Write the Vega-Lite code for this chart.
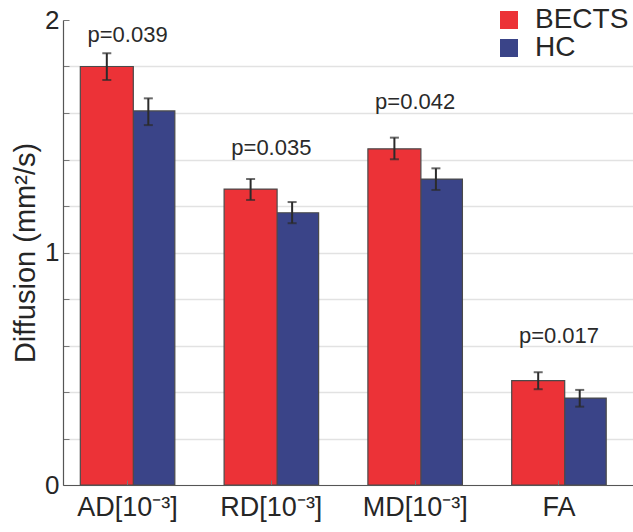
{
  "$schema": "https://vega.github.io/schema/vega-lite/v6.json",
  "width": 570,
  "height": 465,
  "autosize": "none",
  "padding": {"left": 63, "top": 20, "right": 0, "bottom": 47},
  "config": {
    "font": "Liberation Sans",
    "view": {"stroke": null},
    "axis": {"labelColor": "#262626", "titleColor": "#262626"}
  },
  "datasets": {
    "bars": [
      {"Measure": "AD[10⁻³]", "Group": "HC", "Mean": 1.609, "Lo": 1.548, "Hi": 1.663},
      {"Measure": "RD[10⁻³]", "Group": "HC", "Mean": 1.171, "Lo": 1.126, "Hi": 1.217},
      {"Measure": "MD[10⁻³]", "Group": "HC", "Mean": 1.316, "Lo": 1.269, "Hi": 1.362},
      {"Measure": "FA", "Group": "HC", "Mean": 0.374, "Lo": 0.337, "Hi": 0.409},
      {"Measure": "AD[10⁻³]", "Group": "BECTS", "Mean": 1.800, "Lo": 1.742, "Hi": 1.857},
      {"Measure": "RD[10⁻³]", "Group": "BECTS", "Mean": 1.273, "Lo": 1.226, "Hi": 1.316},
      {"Measure": "MD[10⁻³]", "Group": "BECTS", "Mean": 1.446, "Lo": 1.401, "Hi": 1.494},
      {"Measure": "FA", "Group": "BECTS", "Mean": 0.449, "Lo": 0.412, "Hi": 0.485}
    ],
    "pvals": [
      {"Measure": "AD[10⁻³]", "Y": 1.907, "Label": "p=0.039"},
      {"Measure": "RD[10⁻³]", "Y": 1.419, "Label": "p=0.035"},
      {"Measure": "MD[10⁻³]", "Y": 1.616, "Label": "p=0.042"},
      {"Measure": "FA", "Y": 0.612, "Label": "p=0.017"}
    ]
  },
  "encoding": {
    "x": {
      "field": "Measure",
      "type": "nominal",
      "sort": ["AD[10⁻³]", "RD[10⁻³]", "MD[10⁻³]", "FA"],
      "scale": {"paddingInner": 0.344, "paddingOuter": 0.154, "align": 0.393},
      "axis": {
        "title": null,
        "labelAngle": 0,
        "labelFontSize": 27,
        "labelPadding": 14,
        "tickSize": -5,
        "tickColor": "#777777",
        "domainColor": "#555555",
        "domainWidth": 1.2,
        "zindex": 1
      }
    }
  },
  "layer": [
    {
      "data": {"name": "bars"},
      "mark": {"type": "bar", "width": 53, "stroke": "#4a4a4a", "strokeWidth": 1.2},
      "encoding": {
        "xOffset": {"field": "Group", "type": "nominal", "scale": {"domain": ["BECTS", "HC"], "paddingInner": 0, "paddingOuter": 0.136}},
        "y": {
          "field": "Mean",
          "type": "quantitative",
          "stack": null,
          "scale": {"domain": [0, 2], "nice": false},
          "axis": {
            "title": "Diffusion (mm²/s)",
            "titleFontSize": 29,
            "titleFontWeight": "normal",
            "titlePadding": 4,
            "values": [0, 0.2, 0.4, 0.6, 0.8, 1, 1.2, 1.4, 1.6, 1.8, 2],
            "labelExpr": "datum.value % 1 == 0 ? '' + datum.value : ''",
            "labelFontSize": 26,
            "labelPadding": 10,
            "tickSize": -6,
            "tickColor": "#777777",
            "domainColor": "#555555",
            "domainWidth": 1.2,
            "grid": true,
            "gridColor": {"condition": {"test": "datum.value >= 1.99", "value": "white"}, "value": "#e2e2e2"},
            "gridWidth": 1.3
          }
        },
        "color": {
          "field": "Group",
          "type": "nominal",
          "scale": {"domain": ["BECTS", "HC"], "range": ["#ec3237", "#3a4488"]},
          "legend": {
            "title": null,
            "orient": "none",
            "legendX": 432,
            "legendY": -14,
            "padding": 0,
            "symbolType": "square",
            "symbolSize": 324,
            "symbolStrokeWidth": 0,
            "labelFontSize": 28,
            "labelColor": "#262626",
            "labelOffset": 12,
            "rowPadding": -2
          }
        }
      }
    },
    {
      "data": {"name": "bars"},
      "mark": {"type": "rule", "color": "#2b2b2b", "strokeWidth": 2},
      "encoding": {
        "xOffset": {"field": "Group", "type": "nominal"},
        "y": {"field": "Lo", "type": "quantitative"},
        "y2": {"field": "Hi"}
      }
    },
    {
      "data": {"name": "bars"},
      "mark": {"type": "tick", "color": "#2b2b2b", "size": 9, "thickness": 2},
      "encoding": {
        "xOffset": {"field": "Group", "type": "nominal"},
        "y": {"field": "Lo", "type": "quantitative"}
      }
    },
    {
      "data": {"name": "bars"},
      "mark": {"type": "tick", "color": "#2b2b2b", "size": 9, "thickness": 2},
      "encoding": {
        "xOffset": {"field": "Group", "type": "nominal"},
        "y": {"field": "Hi", "type": "quantitative"}
      }
    },
    {
      "data": {"name": "pvals"},
      "mark": {"type": "text", "fontSize": 22, "color": "#2a2a2a", "baseline": "alphabetic", "align": "center"},
      "encoding": {
        "y": {"field": "Y", "type": "quantitative"},
        "text": {"field": "Label"}
      }
    }
  ]
}
